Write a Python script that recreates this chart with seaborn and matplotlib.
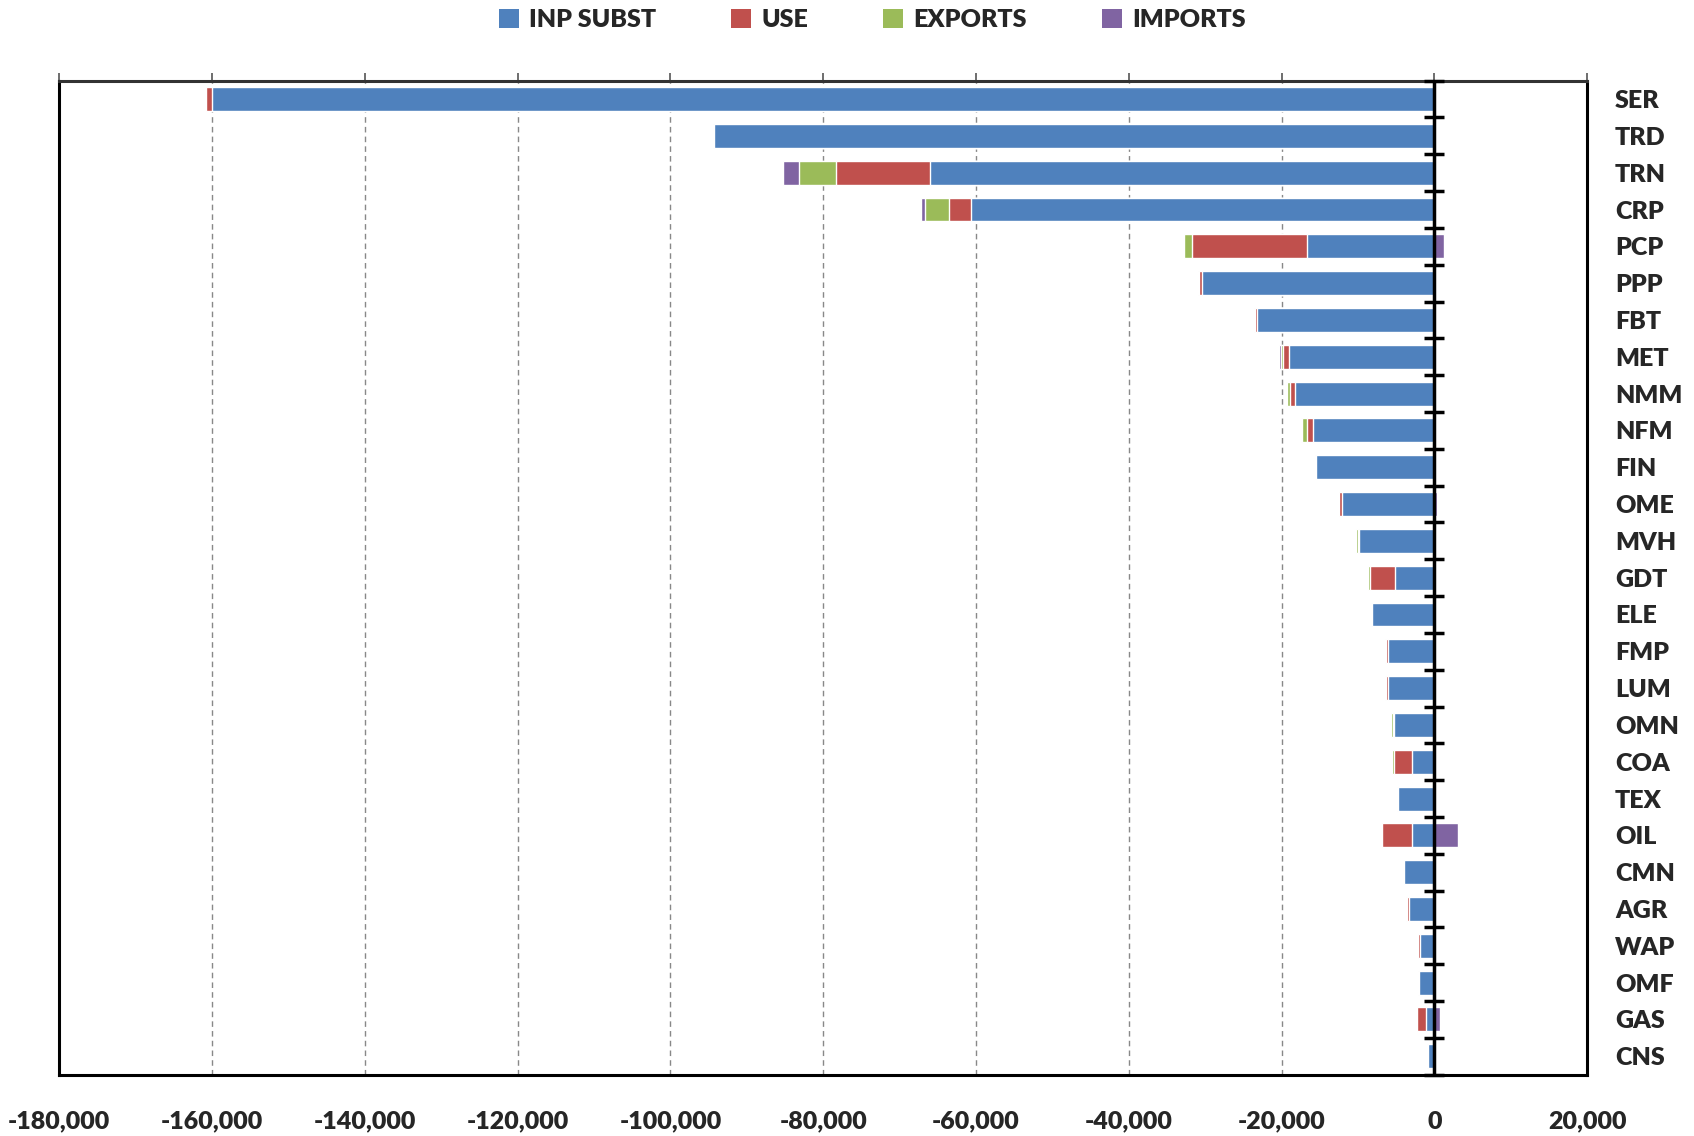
import numpy as np
import pandas as pd
import matplotlib
matplotlib.use("Agg")
import matplotlib.pyplot as plt
from matplotlib.patches import Patch
from matplotlib.ticker import FuncFormatter, MultipleLocator
import seaborn as sns

categories = ["SER", "TRD", "TRN", "CRP", "PCP", "PPP", "FBT", "MET", "NMM", "NFM",
              "FIN", "OME", "MVH", "GDT", "ELE", "FMP", "LUM", "OMN", "COA", "TEX",
              "OIL", "CMN", "AGR", "WAP", "OMF", "GAS", "CNS"]
inp_subst = [-160000, -94300, -66000, -60700, -16700, -30400, -23250, -19050, -18200, -15850,
             -15500, -12100, -9900, -5150, -8170, -6100, -6100, -5300, -2930, -4720,
             -2930, -3930, -3280, -1920, -1970, -1090, -790]
use = [-800, -200, -12300, -2900, -15100, -400, -200, -800, -650, -800,
       -200, -350, -150, -3350, -130, -200, -200, -150, -2320, -220,
       -3980, 0, -260, -200, -150, -1230, -170]
exports = [0, 0, -4900, -3100, -1000, 0, 0, -200, -400, -650,
           0, 0, -200, -200, -170, -200, -200, -250, -250, 0,
           0, 0, 0, 0, 0, 0, 0]
imports = [0, 0, -2100, -500, 1200, -200, -200, -250, -200, -200,
           0, 300, 0, 0, 0, 0, 0, 0, 0, 0,
           3060, 0, -170, 0, 0, 700, 0]

series_names = ["INP SUBST", "USE", "EXPORTS", "IMPORTS"]
colors = ["#4F81BD", "#C0504D", "#9BBB59", "#8064A2"]

df = pd.DataFrame({"cat": categories, "INP SUBST": inp_subst, "USE": use,
                   "EXPORTS": exports, "IMPORTS": imports})

sns.set_style("white")
plt.rcParams["font.family"] = ["Lato", "DejaVu Sans"]
W = "heavy"

fig = plt.figure(figsize=(16.94, 11.36), dpi=100)
ax = fig.add_axes([0.035, 0.054, 0.902, 0.875])

# stacked: negatives cumulative, positives separately
neg_cum = np.zeros(len(df))
cums = []
for name in series_names:
    v = df[name].to_numpy(dtype=float)
    neg_cum = neg_cum + np.where(v < 0, v, 0)
    cums.append(neg_cum.copy())

bar_w = 0.65
for name, col, cum in reversed(list(zip(series_names, colors, cums))):
    sns.barplot(x=cum, y=df["cat"], order=categories, color=col, width=bar_w,
                errorbar=None, ax=ax, saturation=1, zorder=3)
pos_imp = np.where(df["IMPORTS"].to_numpy() > 0, df["IMPORTS"].to_numpy(), 0)
sns.barplot(x=pos_imp, y=df["cat"], order=categories, color=colors[3], width=bar_w,
            errorbar=None, ax=ax, saturation=1, zorder=3)

n = len(categories)
ax.set_xlim(-180000, 20000)
ax.set_ylim(n - 0.5, -0.5)
ax.set_xlabel("")
ax.set_ylabel("")

# zero axis with cross ticks
ax.axvline(0, color="black", lw=2.5, zorder=5)
ax.plot(np.zeros(n + 1), np.arange(n + 1) - 0.5, linestyle="none", marker="_",
        markersize=15, mew=2.5, color="black", zorder=6, clip_on=False)

ax.xaxis.set_major_locator(MultipleLocator(20000))
ax.xaxis.set_major_formatter(FuncFormatter(lambda x, p: f"{x:,.0f}"))
ax.grid(axis="x", linestyle=(0, (4, 3)), color="#888888", lw=1, zorder=0)
ax.grid(axis="y", visible=False)
ax.tick_params(axis="x", top=True, bottom=False, labeltop=False, labelbottom=True,
               direction="out", length=6, width=1.2, color="#555555", pad=20, labelsize=18)
ax.yaxis.tick_right()
ax.tick_params(axis="y", length=0, pad=20, labelsize=18, left=False, right=False)
for lbl in ax.get_xticklabels() + ax.get_yticklabels():
    lbl.set_fontweight(W)
for lbl in ax.get_yticklabels():
    lbl.set_horizontalalignment("left")

for s in ["left", "right", "bottom", "top"]:
    ax.spines[s].set_visible(True)
    ax.spines[s].set_color("black")
    ax.spines[s].set_linewidth(2.2)
ax.spines["top"].set_color("#333333")

handles = [Patch(facecolor=c, edgecolor="none", label=l) for l, c in zip(series_names, colors)]
fig.legend(handles=handles, loc="upper center", bbox_to_anchor=(0.515, 1.012), ncol=4,
           frameon=False, handlelength=0.8, handleheight=0.8, handletextpad=0.4,
           columnspacing=3.0, prop={"weight": W, "size": 18})

fig.savefig("out.png", dpi=100)
